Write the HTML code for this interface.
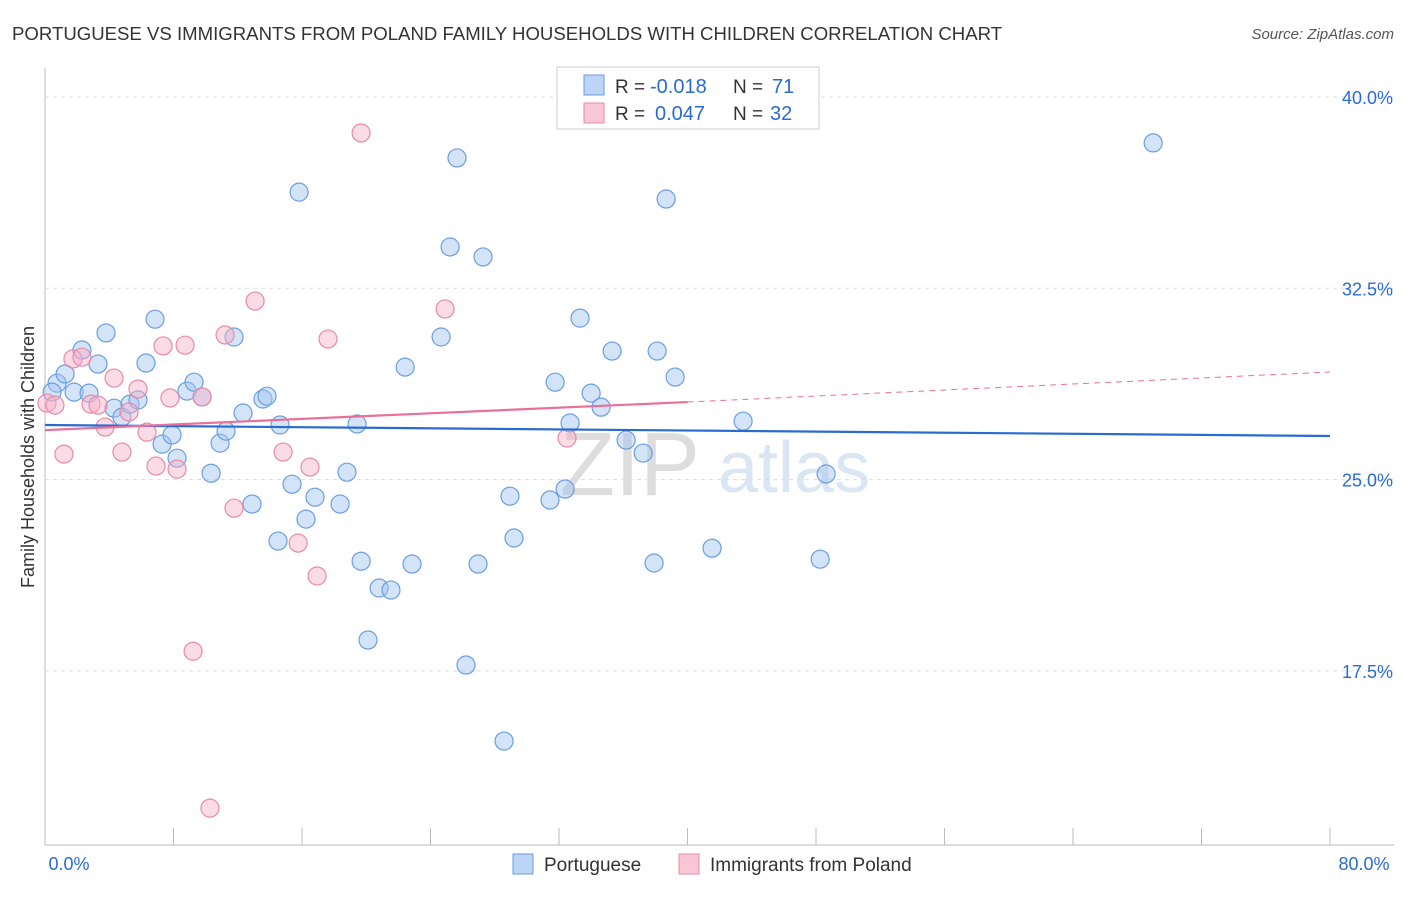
<!DOCTYPE html>
<html><head><meta charset="utf-8"><style>
body{margin:0;background:#fff;font-family:"Liberation Sans",sans-serif}
svg text{font-family:"Liberation Sans",sans-serif}
</style></head><body>
<svg id="c" width="1406" height="892">
<text x="12" y="40" font-size="18.6" fill="#333">PORTUGUESE VS IMMIGRANTS FROM POLAND FAMILY HOUSEHOLDS WITH CHILDREN CORRELATION CHART</text>
<text x="1394" y="39" font-size="15" fill="#555" font-style="italic" text-anchor="end">Source: ZipAtlas.com</text>
<text transform="translate(34,457) rotate(-90)" font-size="18" fill="#333" text-anchor="middle">Family Households with Children</text>
<text x="560" y="495" font-size="90" fill="#ddd" font-family="Liberation Serif">ZIP</text>
<text x="718" y="492" font-size="72" fill="#dbe6f5">atlas</text>
<g id="grid"></g><g id="pts"></g><g id="lines"></g>
<g>
<rect x="557" y="67" width="262" height="62" fill="#fff" stroke="#ccc"/>
<rect x="584" y="75" width="20" height="20" fill="#bcd4f5" stroke="#6a9ee0"/>
<rect x="584" y="103" width="20" height="20" fill="#f9c6d6" stroke="#e88aa8"/>
<text x="615" y="93" font-size="19" fill="#333">R =</text>
<text x="650" y="93" font-size="20" fill="#2a6bd1">-0.018</text>
<text x="733" y="93" font-size="19" fill="#333">N =</text>
<text x="772" y="93" font-size="20" fill="#2a6bd1">71</text>
<text x="615" y="120" font-size="19" fill="#333">R =</text>
<text x="655" y="120" font-size="20" fill="#2a6bd1">0.047</text>
<text x="733" y="120" font-size="19" fill="#333">N =</text>
<text x="770" y="120" font-size="20" fill="#2a6bd1">32</text>
</g>
<g>
<rect x="513" y="854" width="20" height="20" fill="#bcd4f5" stroke="#6a9ee0"/>
<text x="544" y="871" font-size="19" fill="#333">Portuguese</text>
<rect x="679" y="854" width="20" height="20" fill="#f9c6d6" stroke="#e88aa8"/>
<text x="710" y="871" font-size="19" fill="#333">Immigrants from Poland</text>
</g>
</svg>
<script>
const blueX=[0.75,0.44,1.25,1.81,2.30,3.30,2.74,3.80,4.30,4.79,5.29,5.79,6.29,6.85,7.29,7.91,8.22,8.84,9.28,9.78,10.34,10.90,11.27,11.77,12.33,12.89,13.57,13.82,14.51,14.63,15.38,15.82,16.25,16.81,18.37,18.80,19.43,19.68,20.11,20.80,21.54,22.42,22.85,24.66,25.22,25.65,26.21,26.96,27.27,28.58,28.95,29.20,31.44,31.76,32.38,32.69,33.31,34.00,34.62,35.31,36.18,37.24,37.92,38.11,38.67,39.23,41.53,43.46,48.26,48.63,68.99];
const blueY=[28.78,28.43,29.14,28.43,30.08,29.53,28.39,30.75,27.80,27.45,27.96,28.12,29.57,31.29,26.39,26.75,25.84,28.47,28.82,28.24,25.25,26.43,26.90,30.59,27.61,24.04,28.16,28.27,22.59,27.14,24.82,36.27,23.45,24.31,24.04,25.29,27.18,21.80,18.71,20.75,20.67,29.41,21.69,30.59,34.12,37.61,17.73,21.69,33.73,14.75,24.35,22.71,24.20,28.82,24.63,27.22,31.33,28.39,27.84,30.04,26.55,26.04,21.73,30.04,36.00,29.02,22.31,27.29,21.88,25.22,38.20];
const pinkX=[0.12,0.62,1.18,1.74,2.30,2.86,3.30,3.74,4.30,4.79,5.23,5.79,6.35,6.91,7.35,7.78,8.22,8.72,9.22,9.78,10.27,11.21,11.77,13.08,14.82,15.76,16.50,16.94,17.62,19.68,24.91,32.50];
const pinkY=[28.0,27.92,26.0,29.73,29.80,27.96,27.92,27.06,28.98,26.08,27.65,28.55,26.86,25.53,30.24,28.20,25.41,30.27,18.27,28.24,12.12,30.67,23.88,32.0,26.08,22.51,25.49,21.22,30.51,38.59,31.69,26.63];
const yTicks=[40,32.5,25,17.5];
const xTicks=[0,8,16,24,32,40,48,56,64,72,80];
const blueLine=[27.14,26.71], pinkLine=[26.94,28.04,29.22]; // at x=0, 40, 80
const NS="http://www.w3.org/2000/svg";
const sx=v=>45+v*1285/80, sy=v=>97+(40-v)*191.3/7.5;
function mk(t,a,p){const e=document.createElementNS(NS,t);for(const k in a)e.setAttribute(k,a[k]);document.getElementById(p).appendChild(e);return e;}
mk('line',{x1:45,y1:68,x2:45,y2:845,stroke:'#bbb'},'grid');
mk('line',{x1:45,y1:845,x2:1394,y2:845,stroke:'#bbb'},'grid');
yTicks.forEach(v=>{
 const l=mk('line',{x1:45,x2:1394,y1:sy(v),y2:sy(v),stroke:'#ddd','stroke-dasharray':'4,4'},'grid');
 
 
 const t=mk('text',{x:1393,y:sy(v)+7,'font-size':18,fill:'#2a6bd1','text-anchor':'end'},'grid');t.textContent=v.toFixed(1)+'%';
 
 
});
xTicks.forEach(v=>{mk('line',{x1:sx(v),x2:sx(v),y1:828,y2:845,stroke:'#bbb'},'grid');});
[[0,'0.0%',69],[80,'80.0%',1364]].forEach(([v,s,x])=>{const t=mk('text',{x:x,y:870,'font-size':18,fill:'#2a6bd1','text-anchor':'middle'},'grid');t.textContent=s;
 
 });
blueX.forEach((x,i)=>{const c=mk('circle',{cx:sx(x),cy:sy(blueY[i]),r:9,fill:'rgba(160,196,240,0.45)',stroke:'#6a9ee0','stroke-width':1.2},'pts');
 
 });
pinkX.forEach((x,i)=>{const c=mk('circle',{cx:sx(x),cy:sy(pinkY[i]),r:9,fill:'rgba(246,176,198,0.45)',stroke:'#e88aa8','stroke-width':1.2},'pts');
 
 });
let l=mk('line',{x1:sx(0),y1:sy(blueLine[0]),x2:sx(80),y2:sy(blueLine[1]),stroke:'#2a6bd1','stroke-width':2.2},'lines');


l=mk('line',{x1:sx(0),y1:sy(pinkLine[0]),x2:sx(40),y2:sy(pinkLine[1]),stroke:'#e8709a','stroke-width':2.2},'lines');


l=mk('line',{x1:sx(40),y1:sy(pinkLine[1]),x2:sx(80),y2:sy(pinkLine[2]),stroke:'#e8709a','stroke-width':1,'stroke-dasharray':'6,5'},'lines');


</script>
</body></html>
